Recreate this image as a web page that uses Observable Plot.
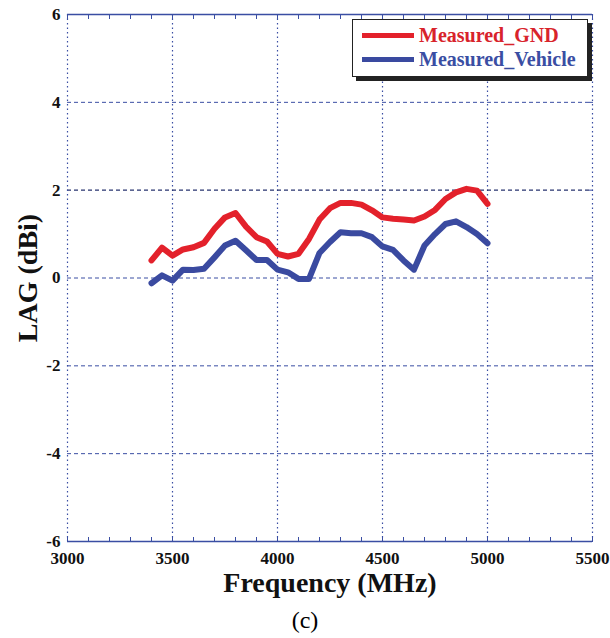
<!DOCTYPE html>
<html>
<head>
<meta charset="utf-8">
<script src="https://cdn.jsdelivr.net/npm/d3@7"></script>
<script src="https://cdn.jsdelivr.net/npm/@observablehq/plot@0.6"></script>
<style>
  body { margin: 0; background: #fff; font-family: "Liberation Serif", serif; }
  #wrap { position: relative; width: 610px; }
  #legend { position: absolute; left: 352px; top: 19px; width: 234px; height: 56px; background: #fff;
            border: 1.5px solid #222; box-shadow: 4px 4px 0 #222; font-weight: bold; font-size: 20px; font-family: "Liberation Serif", serif; }
  .row { position: absolute; left: 9px; display: flex; align-items: center; white-space: nowrap; }
  .sw { width: 52px; height: 5px; margin-right: 5px; }
  #caption { text-align: center; font-size: 24px; width: 610px; line-height: 36px; margin-top: 2px; font-family: "Liberation Serif", serif; }
</style>
</head>
<body>
<div id="wrap">
  <div id="chart"></div>
  <div id="legend">
    <div class="row" style="top:4px;color:#d8232b"><div class="sw" style="background:#e3212b"></div>Measured_GND</div>
    <div class="row" style="top:28px;color:#3a4ea3"><div class="sw" style="background:#3a4aa0"></div>Measured_Vehicle</div>
  </div>
  <div id="caption">(c)</div>
</div>
<script>
const freq = [3400,3450,3500,3550,3600,3650,3700,3750,3800,3850,3900,3950,4000,4050,4100,4150,4200,4250,4300,4350,4400,4450,4500,4550,4600,4650,4700,4750,4800,4850,4900,4950,5000];
const measuredGND = [0.40,0.69,0.51,0.65,0.70,0.80,1.12,1.38,1.48,1.17,0.93,0.83,0.55,0.49,0.55,0.89,1.33,1.59,1.71,1.71,1.67,1.54,1.38,1.35,1.33,1.31,1.40,1.55,1.80,1.95,2.03,1.99,1.69];
const measuredVehicle = [-0.12,0.06,-0.06,0.19,0.18,0.21,0.47,0.74,0.85,0.63,0.41,0.41,0.19,0.13,-0.02,-0.02,0.57,0.82,1.04,1.02,1.02,0.93,0.72,0.64,0.40,0.19,0.74,1.00,1.23,1.29,1.16,1.00,0.79];
const xTicks = [3000,3500,4000,4500,5000,5500];
const xMinor = d3.range(3000, 5501, 100);
const yTicks = [-6,-4,-2,0,2,4,6];

const gnd = freq.map((f,i) => ({f, v: measuredGND[i]}));
const veh = freq.map((f,i) => ({f, v: measuredVehicle[i]}));
const blue = "#3a4ea3";
const fmt = d => String(d);

const chart = Plot.plot({
  width: 610,
  height: 600,
  marginTop: 14,
  marginBottom: 59,
  marginLeft: 67,
  marginRight: 18,
  style: { fontFamily: "'Liberation Serif', serif", background: "white" },
  x: { domain: [3000, 5500] },
  y: { domain: [-6, 6] },
  marks: [
    Plot.gridX([3500,4000,4500,5000], { stroke: blue, strokeOpacity: 1, strokeWidth: 1.2, strokeDasharray: "1.5,3" }),
    Plot.gridY([-4,-2,0,4], { stroke: blue, strokeOpacity: 1, strokeWidth: 1, strokeDasharray: "4,3" }),
    Plot.gridY([2], { stroke: "#27336f", strokeOpacity: 1, strokeWidth: 1.1, strokeDasharray: "4,3" }),
    Plot.ruleX([3000, 5500], { stroke: blue, strokeWidth: 1.2, strokeDasharray: "1.5,3" }),
    Plot.ruleY([-6, 6], { stroke: blue, strokeWidth: 1.3 }),
    Plot.axisX(xMinor, { anchor: "bottom", tickSize: -4, stroke: blue, tickFormat: () => "", label: null }),
    Plot.axisX(xMinor, { anchor: "top", tickSize: -4, stroke: blue, tickFormat: () => "", label: null }),
    Plot.axisY(yTicks, { anchor: "right", tickSize: -4, stroke: blue, tickFormat: () => "", label: null }),
    Plot.axisX(xTicks, { anchor: "bottom", tickSize: 0, tickPadding: 10, fontSize: 17, fontWeight: "bold", fill: "#111",
      tickFormat: fmt, label: "Frequency (MHz)", labelAnchor: "center", labelArrow: "none", labelOffset: 50 }),
    Plot.axisY(yTicks, { anchor: "left", tickSize: 0, tickPadding: 7, fontSize: 17, fontWeight: "bold", fill: "#111",
      tickFormat: fmt, label: "LAG (dBi)", labelAnchor: "center", labelArrow: "none", labelOffset: 50 }),
    Plot.line(gnd, { x: "f", y: "v", stroke: "#e3212b", strokeWidth: 6, strokeLinejoin: "round" }),
    Plot.line(veh, { x: "f", y: "v", stroke: "#3a4aa0", strokeWidth: 6, strokeLinejoin: "round" })
  ]
});
chart.querySelectorAll("g[aria-label='x-axis label'] text, g[aria-label='y-axis label'] text").forEach(t => {
  t.setAttribute("font-size", "28");
  t.setAttribute("font-weight", "bold");
});
document.getElementById("chart").appendChild(chart);
</script>
</body>
</html>
